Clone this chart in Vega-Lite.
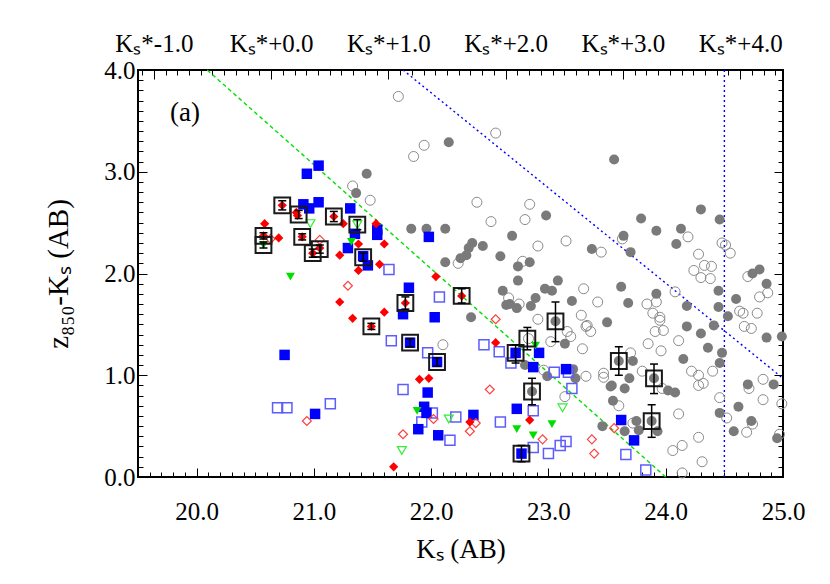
{
"$schema":"https://vega.github.io/schema/vega-lite/v6.json",
"autosize":{"type":"none"},
"padding":{"left":138,"top":70,"right":47,"bottom":107},
"width":645,"height":407,
"background":"white",
"config":{"view":{"stroke":"#000","strokeWidth":2},"font":"Liberation Serif"},
"datasets":{
"pts":[
{"k":22.15,"c":3.29,"t":"gf"},{"k":21.45,"c":2.98,"t":"gf"},{"k":21.36,"c":2.79,"t":"gf"},{"k":21.83,"c":2.44,"t":"gf"},{"k":21.96,"c":2.44,"t":"gf"},{"k":22.12,"c":2.44,"t":"gf"},{"k":22.12,"c":2.11,"t":"gf"},{"k":22.98,"c":2.57,"t":"gf"},{"k":22.69,"c":2.37,"t":"gf"},{"k":22.35,"c":2.30,"t":"gf"},{"k":22.44,"c":2.27,"t":"gf"},{"k":22.32,"c":2.25,"t":"gf"},{"k":22.30,"c":2.18,"t":"gf"},{"k":22.25,"c":2.15,"t":"gf"},{"k":22.59,"c":2.17,"t":"gf"},{"k":23.37,"c":2.24,"t":"gf"},{"k":22.84,"c":2.11,"t":"gf"},{"k":22.74,"c":2.07,"t":"gf"},{"k":22.74,"c":1.93,"t":"gf"},{"k":23.08,"c":1.93,"t":"gf"},{"k":22.97,"c":1.85,"t":"gf"},{"k":23.03,"c":1.83,"t":"gf"},{"k":22.61,"c":1.83,"t":"gf"},{"k":22.89,"c":1.76,"t":"gf"},{"k":23.20,"c":1.73,"t":"gf"},{"k":22.67,"c":1.70,"t":"gf"},{"k":22.64,"c":1.69,"t":"gf"},{"k":22.73,"c":1.66,"t":"gf"},{"k":22.85,"c":1.68,"t":"gf"},{"k":22.34,"c":1.57,"t":"gf"},{"k":23.50,"c":1.52,"t":"gf"},{"k":23.06,"c":1.53,"t":"gf"},{"k":24.30,"c":2.63,"t":"gf"},{"k":23.79,"c":2.54,"t":"gf"},{"k":24.46,"c":2.53,"t":"gf"},{"k":23.92,"c":2.42,"t":"gf"},{"k":24.13,"c":2.44,"t":"gf"},{"k":23.64,"c":2.37,"t":"gf"},{"k":24.09,"c":2.29,"t":"gf"},{"k":23.70,"c":2.21,"t":"gf"},{"k":24.74,"c":2.00,"t":"gf"},{"k":24.80,"c":2.04,"t":"gf"},{"k":24.86,"c":1.90,"t":"gf"},{"k":23.62,"c":1.87,"t":"gf"},{"k":23.92,"c":1.80,"t":"gf"},{"k":24.45,"c":1.83,"t":"gf"},{"k":24.60,"c":1.75,"t":"gf"},{"k":23.68,"c":1.71,"t":"gf"},{"k":24.18,"c":1.68,"t":"gf"},{"k":24.45,"c":1.67,"t":"gf"},{"k":24.53,"c":1.58,"t":"gf"},{"k":24.18,"c":1.48,"t":"gf"},{"k":24.41,"c":1.49,"t":"gf"},{"k":22.80,"c":1.10,"t":"gf"},{"k":22.99,"c":0.99,"t":"gf"},{"k":23.21,"c":1.06,"t":"gf"},{"k":23.23,"c":0.97,"t":"gf"},{"k":23.14,"c":1.31,"t":"gf"},{"k":22.86,"c":0.84,"t":"gf"},{"k":23.53,"c":0.89,"t":"gf"},{"k":23.55,"c":0.75,"t":"gf"},{"k":23.46,"c":0.50,"t":"gf"},{"k":23.60,"c":1.14,"t":"gf"},{"k":23.90,"c":0.97,"t":"gf"},{"k":23.88,"c":0.55,"t":"gf"},{"k":24.30,"c":1.41,"t":"gf"},{"k":23.72,"c":1.14,"t":"gf"},{"k":24.36,"c":1.27,"t":"gf"},{"k":24.48,"c":1.22,"t":"gf"},{"k":24.15,"c":1.16,"t":"gf"},{"k":24.46,"c":1.12,"t":"gf"},{"k":24.86,"c":1.37,"t":"gf"},{"k":24.99,"c":1.38,"t":"gf"},{"k":23.69,"c":0.97,"t":"gf"},{"k":23.54,"c":0.90,"t":"gf"},{"k":23.65,"c":0.87,"t":"gf"},{"k":24.02,"c":0.85,"t":"gf"},{"k":24.08,"c":0.83,"t":"gf"},{"k":24.70,"c":0.91,"t":"gf"},{"k":24.92,"c":0.91,"t":"gf"},{"k":24.62,"c":0.69,"t":"gf"},{"k":24.46,"c":0.63,"t":"gf"},{"k":24.73,"c":0.55,"t":"gf"},{"k":24.58,"c":0.45,"t":"gf"},{"k":24.95,"c":0.38,"t":"gf"},{"k":23.65,"c":0.45,"t":"gf"},{"k":23.75,"c":0.55,"t":"gf"},{"k":23.77,"c":0.46,"t":"gf"},{"k":23.93,"c":0.45,"t":"gf"},{"k":23.56,"c":3.12,"t":"gf"},
{"k":21.72,"c":3.74,"t":"go"},{"k":21.94,"c":3.26,"t":"go"},{"k":21.85,"c":3.15,"t":"go"},{"k":21.33,"c":2.86,"t":"go"},{"k":21.48,"c":2.72,"t":"go"},{"k":22.23,"c":2.10,"t":"go"},{"k":22.10,"c":1.30,"t":"go"},{"k":22.39,"c":2.70,"t":"go"},{"k":22.84,"c":2.68,"t":"go"},{"k":22.51,"c":2.51,"t":"go"},{"k":22.80,"c":2.53,"t":"go"},{"k":22.91,"c":2.27,"t":"go"},{"k":23.15,"c":2.32,"t":"go"},{"k":23.45,"c":2.21,"t":"go"},{"k":22.78,"c":2.12,"t":"go"},{"k":23.30,"c":1.85,"t":"go"},{"k":22.66,"c":1.76,"t":"go"},{"k":23.42,"c":1.72,"t":"go"},{"k":22.75,"c":1.70,"t":"go"},{"k":22.91,"c":1.55,"t":"go"},{"k":23.28,"c":1.59,"t":"go"},{"k":23.33,"c":1.49,"t":"go"},{"k":22.55,"c":3.38,"t":"go"},{"k":23.63,"c":2.34,"t":"go"},{"k":24.19,"c":2.36,"t":"go"},{"k":24.48,"c":2.30,"t":"go"},{"k":24.51,"c":2.28,"t":"go"},{"k":24.55,"c":2.20,"t":"go"},{"k":24.28,"c":2.19,"t":"go"},{"k":24.33,"c":2.08,"t":"go"},{"k":24.39,"c":2.07,"t":"go"},{"k":24.24,"c":2.03,"t":"go"},{"k":24.30,"c":1.96,"t":"go"},{"k":24.38,"c":1.95,"t":"go"},{"k":24.70,"c":1.97,"t":"go"},{"k":24.87,"c":1.81,"t":"go"},{"k":24.80,"c":1.77,"t":"go"},{"k":24.08,"c":1.82,"t":"go"},{"k":23.84,"c":1.70,"t":"go"},{"k":23.92,"c":1.72,"t":"go"},{"k":24.63,"c":1.63,"t":"go"},{"k":24.66,"c":1.61,"t":"go"},{"k":24.78,"c":1.61,"t":"go"},{"k":23.95,"c":1.57,"t":"go"},{"k":23.95,"c":1.54,"t":"go"},{"k":24.67,"c":1.48,"t":"go"},{"k":24.73,"c":1.46,"t":"go"},{"k":22.83,"c":1.36,"t":"go"},{"k":22.96,"c":1.05,"t":"go"},{"k":23.32,"c":0.99,"t":"go"},{"k":23.47,"c":1.02,"t":"go"},{"k":23.47,"c":0.98,"t":"go"},{"k":23.02,"c":1.33,"t":"go"},{"k":23.19,"c":1.38,"t":"go"},{"k":23.29,"c":1.26,"t":"go"},{"k":23.36,"c":1.43,"t":"go"},{"k":23.32,"c":1.48,"t":"go"},{"k":23.14,"c":0.79,"t":"go"},{"k":23.16,"c":1.43,"t":"go"},{"k":23.89,"c":1.61,"t":"go"},{"k":23.91,"c":1.43,"t":"go"},{"k":23.98,"c":1.44,"t":"go"},{"k":23.85,"c":1.31,"t":"go"},{"k":23.70,"c":1.22,"t":"go"},{"k":23.96,"c":1.24,"t":"go"},{"k":24.11,"c":1.34,"t":"go"},{"k":23.80,"c":1.04,"t":"go"},{"k":24.22,"c":1.04,"t":"go"},{"k":24.28,"c":1.00,"t":"go"},{"k":24.40,"c":1.04,"t":"go"},{"k":24.28,"c":0.90,"t":"go"},{"k":24.32,"c":0.92,"t":"go"},{"k":23.97,"c":0.87,"t":"go"},{"k":24.46,"c":0.78,"t":"go"},{"k":24.83,"c":0.96,"t":"go"},{"k":24.71,"c":0.87,"t":"go"},{"k":24.83,"c":0.76,"t":"go"},{"k":24.99,"c":0.72,"t":"go"},{"k":23.60,"c":0.70,"t":"go"},{"k":24.11,"c":0.62,"t":"go"},{"k":24.52,"c":0.58,"t":"go"},{"k":24.74,"c":0.52,"t":"go"},{"k":24.69,"c":0.44,"t":"go"},{"k":24.97,"c":0.42,"t":"go"},{"k":23.72,"c":0.53,"t":"go"},{"k":24.28,"c":0.39,"t":"go"},{"k":24.14,"c":0.31,"t":"go"},{"k":24.06,"c":0.26,"t":"go"},{"k":24.31,"c":0.15,"t":"go"},{"k":24.14,"c":0.04,"t":"go"},
{"k":21.04,"c":3.06,"t":"bf"},{"k":20.94,"c":2.98,"t":"bf"},{"k":20.91,"c":2.68,"t":"bf"},{"k":20.96,"c":2.64,"t":"bf"},{"k":21.04,"c":2.70,"t":"bf"},{"k":21.31,"c":2.64,"t":"bf"},{"k":21.54,"c":2.43,"t":"bf"},{"k":21.54,"c":2.38,"t":"bf"},{"k":21.35,"c":2.39,"t":"bf"},{"k":21.98,"c":2.36,"t":"bf"},{"k":21.29,"c":2.25,"t":"bf"},{"k":21.42,"c":2.17,"t":"bf"},{"k":21.46,"c":2.08,"t":"bf"},{"k":21.81,"c":1.86,"t":"bf"},{"k":21.76,"c":1.60,"t":"bf"},{"k":22.03,"c":1.57,"t":"bf"},{"k":21.82,"c":1.32,"t":"bf"},{"k":22.05,"c":1.13,"t":"bf"},{"k":20.75,"c":1.20,"t":"bf"},{"k":21.97,"c":0.83,"t":"bf"},{"k":21.01,"c":0.62,"t":"bf"},{"k":21.94,"c":0.69,"t":"bf"},{"k":21.96,"c":0.63,"t":"bf"},{"k":21.89,"c":0.47,"t":"bf"},{"k":22.06,"c":0.41,"t":"bf"},{"k":22.72,"c":1.22,"t":"bf"},{"k":22.92,"c":1.22,"t":"bf"},{"k":22.87,"c":1.08,"t":"bf"},{"k":23.15,"c":1.06,"t":"bf"},{"k":22.73,"c":0.67,"t":"bf"},{"k":22.36,"c":0.61,"t":"bf"},{"k":22.77,"c":0.23,"t":"bf"},{"k":23.62,"c":0.56,"t":"bf"},{"k":23.73,"c":0.36,"t":"bf"},
{"k":21.64,"c":2.04,"t":"bo"},{"k":22.07,"c":1.77,"t":"bo"},{"k":21.66,"c":1.34,"t":"bo"},{"k":21.97,"c":1.22,"t":"bo"},{"k":21.76,"c":0.86,"t":"bo"},{"k":20.69,"c":0.68,"t":"bo"},{"k":20.77,"c":0.68,"t":"bo"},{"k":21.14,"c":0.72,"t":"bo"},{"k":22.01,"c":0.63,"t":"bo"},{"k":21.92,"c":0.54,"t":"bo"},{"k":22.21,"c":0.59,"t":"bo"},{"k":22.16,"c":0.36,"t":"bo"},{"k":22.45,"c":1.30,"t":"bo"},{"k":22.58,"c":1.23,"t":"bo"},{"k":22.68,"c":1.12,"t":"bo"},{"k":23.05,"c":1.03,"t":"bo"},{"k":23.17,"c":1.03,"t":"bo"},{"k":23.20,"c":0.87,"t":"bo"},{"k":22.87,"c":0.65,"t":"bo"},{"k":22.59,"c":0.54,"t":"bo"},{"k":22.87,"c":0.29,"t":"bo"},{"k":23.00,"c":0.23,"t":"bo"},{"k":23.10,"c":0.31,"t":"bo"},{"k":23.15,"c":0.35,"t":"bo"},{"k":23.66,"c":0.22,"t":"bo"},{"k":23.83,"c":0.07,"t":"bo"},
{"k":20.73,"c":2.67,"t":"rf"},{"k":20.85,"c":2.60,"t":"rf"},{"k":20.86,"c":2.57,"t":"rf"},{"k":20.58,"c":2.49,"t":"rf"},{"k":20.57,"c":2.37,"t":"rf"},{"k":20.70,"c":2.35,"t":"rf"},{"k":20.90,"c":2.36,"t":"rf"},{"k":21.17,"c":2.56,"t":"rf"},{"k":21.25,"c":2.49,"t":"rf"},{"k":21.53,"c":2.49,"t":"rf"},{"k":21.05,"c":2.25,"t":"rf"},{"k":20.99,"c":2.20,"t":"rf"},{"k":21.38,"c":2.29,"t":"rf"},{"k":21.60,"c":2.29,"t":"rf"},{"k":21.22,"c":2.18,"t":"rf"},{"k":21.38,"c":2.03,"t":"rf"},{"k":21.56,"c":2.09,"t":"rf"},{"k":22.04,"c":1.97,"t":"rf"},{"k":21.78,"c":1.71,"t":"rf"},{"k":21.22,"c":1.72,"t":"rf"},{"k":21.60,"c":1.62,"t":"rf"},{"k":21.33,"c":1.56,"t":"rf"},{"k":21.49,"c":1.48,"t":"rf"},{"k":21.90,"c":0.96,"t":"rf"},{"k":21.98,"c":0.97,"t":"rf"},{"k":21.68,"c":0.10,"t":"rf"},{"k":22.26,"c":1.78,"t":"rf"},{"k":22.55,"c":1.32,"t":"rf"},{"k":22.33,"c":0.54,"t":"rf"},{"k":22.84,"c":0.56,"t":"rf"},
{"k":20.63,"c":2.34,"t":"ro"},{"k":21.05,"c":2.33,"t":"ro"},{"k":21.29,"c":1.88,"t":"ro"},{"k":20.94,"c":0.55,"t":"ro"},{"k":22.02,"c":0.57,"t":"ro"},{"k":21.76,"c":0.42,"t":"ro"},{"k":22.55,"c":1.55,"t":"ro"},{"k":22.50,"c":0.86,"t":"ro"},{"k":22.38,"c":0.53,"t":"ro"},{"k":22.33,"c":0.45,"t":"ro"},{"k":22.95,"c":0.37,"t":"ro"},{"k":23.37,"c":0.37,"t":"ro"},{"k":23.39,"c":0.23,"t":"ro"},{"k":23.56,"c":0.48,"t":"ro"},
{"k":20.57,"c":2.28,"t":"nf"},{"k":21.32,"c":2.31,"t":"nf"},{"k":20.80,"c":1.97,"t":"nf"},{"k":21.88,"c":0.65,"t":"nf"},{"k":22.89,"c":1.29,"t":"nf"},{"k":22.73,"c":0.47,"t":"nf"},{"k":23.03,"c":0.52,"t":"nf"},{"k":22.87,"c":0.41,"t":"nf"},
{"k":20.97,"c":2.49,"t":"no"},{"k":21.37,"c":2.48,"t":"no"},{"k":22.15,"c":0.57,"t":"no"},{"k":21.75,"c":0.26,"t":"no"},{"k":23.12,"c":0.68,"t":"no"}
],
"boxes":[
{"k":20.73,"c":2.67,"lo":2.625,"hi":2.715},{"k":20.87,"c":2.58,"lo":2.54,"hi":2.62},{"k":20.57,"c":2.37,"lo":2.34,"hi":2.40},{"k":20.57,"c":2.28,"lo":2.25,"hi":2.31},{"k":20.90,"c":2.36,"lo":2.33,"hi":2.39},{"k":21.17,"c":2.56,"lo":2.51,"hi":2.61},{"k":21.37,"c":2.48,"lo":2.43,"hi":2.53},{"k":21.05,"c":2.24,"lo":2.20,"hi":2.28},{"k":20.99,"c":2.20,"lo":2.16,"hi":2.24},{"k":21.42,"c":2.16,"lo":2.12,"hi":2.20},{"k":21.78,"c":1.71,"lo":1.65,"hi":1.77},{"k":21.49,"c":1.48,"lo":1.45,"hi":1.51},{"k":21.82,"c":1.32,"lo":1.28,"hi":1.36},{"k":22.05,"c":1.13,"lo":1.09,"hi":1.17},{"k":22.26,"c":1.78,"lo":1.71,"hi":1.85},{"k":23.06,"c":1.53,"lo":1.33,"hi":1.72},{"k":22.82,"c":1.36,"lo":1.25,"hi":1.47},{"k":22.72,"c":1.22,"lo":1.12,"hi":1.30},{"k":22.86,"c":0.84,"lo":0.71,"hi":0.97},{"k":22.77,"c":0.23,"lo":0.15,"hi":0.31},{"k":23.60,"c":1.14,"lo":1.00,"hi":1.28},{"k":23.90,"c":0.97,"lo":0.82,"hi":1.11},{"k":23.88,"c":0.55,"lo":0.39,"hi":0.71}
],
"lines":[{"g":"green","k":20.09,"c":4.0},{"g":"green","k":24.0,"c":0.0},{"g":"blue","k":21.76,"c":4.0},{"g":"blue","k":25.0,"c":0.97}],
"vline":[{"k":24.5}],
"lab":[{"k":19.9,"c":3.58,"text":"(a)"}]
},
"resolve":{"axis":{"x":"independent","y":"independent"}},
"layer":[
{"data":{"name":"lines"},"transform":[{"filter":"datum.g=='green'"}],
 "mark":{"type":"line","color":"#00e000","strokeWidth":1.4,"strokeDash":[4,3]},
 "encoding":{"x":{"field":"k","type":"quantitative","scale":{"domain":[19.5,25],"nice":false,"zero":false},"axis":null},"y":{"field":"c","type":"quantitative","scale":{"domain":[0,4],"nice":false,"zero":false},"axis":null}}},
{"data":{"name":"lines"},"transform":[{"filter":"datum.g=='blue'"}],
 "mark":{"type":"line","color":"#0000ff","strokeWidth":1.4,"strokeDash":[2,3]},
 "encoding":{"x":{"field":"k","type":"quantitative","scale":{"domain":[19.5,25],"nice":false,"zero":false},"axis":null},"y":{"field":"c","type":"quantitative","scale":{"domain":[0,4],"nice":false,"zero":false},"axis":null}}},
{"data":{"name":"vline"},
 "mark":{"type":"rule","color":"#0000ff","strokeWidth":1.4,"strokeDash":[2,3]},
 "encoding":{"x":{"field":"k","type":"quantitative","scale":{"domain":[19.5,25],"nice":false,"zero":false},"axis":null}}},
{"data":{"name":"pts"},"transform":[{"filter":"datum.t=='go'"}],
 "mark":{"type":"point","shape":"circle","filled":false,"stroke":"#8a8a8a","strokeWidth":1,"size":100,"opacity":1},
 "encoding":{
  "x":{"field":"k","type":"quantitative","scale":{"domain":[19.5,25],"nice":false,"zero":false},
   "axis":{"orient":"bottom","values":[19.6,19.7,19.8,19.9,20,20.1,20.2,20.3,20.4,20.5,20.6,20.7,20.8,20.9,21,21.1,21.2,21.3,21.4,21.5,21.6,21.7,21.8,21.9,22,22.1,22.2,22.3,22.4,22.5,22.6,22.7,22.8,22.9,23,23.1,23.2,23.3,23.4,23.5,23.6,23.7,23.8,23.9,24,24.1,24.2,24.3,24.4,24.5,24.6,24.7,24.8,24.9,25],
    "labelExpr":"abs(datum.value-round(datum.value))<0.001 ? format(datum.value,'.1f') : ''",
    "tickSize":{"condition":{"test":"abs(datum.value-round(datum.value))<0.001","value":-9},"value":-5},
    "tickColor":"#000","tickWidth":1,"domain":false,"grid":false,"labelOverlap":false,"labelBound":false,"labelFlush":false,
    "labelFont":"Liberation Serif","labelFontSize":25,"labelColor":"#000","labelPadding":31,
    "title":"Kₛ (AB)","titleFont":"Liberation Serif","titleFontSize":27,"titleFontWeight":"normal","titleColor":"#000","titlePadding":8}},
  "y":{"field":"c","type":"quantitative","scale":{"domain":[0,4],"nice":false,"zero":false},
   "axis":{"orient":"left","values":[0,0.1,0.2,0.3,0.4,0.5,0.6,0.7,0.8,0.9,1,1.1,1.2,1.3,1.4,1.5,1.6,1.7,1.8,1.9,2,2.1,2.2,2.3,2.4,2.5,2.6,2.7,2.8,2.9,3,3.1,3.2,3.3,3.4,3.5,3.6,3.7,3.8,3.9,4],
    "labelExpr":"abs(datum.value-round(datum.value))<0.001 ? format(datum.value,'.1f') : ''",
    "tickSize":{"condition":{"test":"abs(datum.value-round(datum.value))<0.001","value":-9},"value":-5},
    "tickColor":"#000","tickWidth":1,"domain":false,"grid":false,"labelOverlap":false,"labelBound":false,"labelFlush":false,
    "labelFont":"Liberation Serif","labelFontSize":25,"labelColor":"#000","labelPadding":12,
    "title":"z₈₅₀-Kₛ (AB)","titleFont":"Liberation Serif","titleFontSize":29,"titleFontWeight":"normal","titleColor":"#000","titlePadding":30}}}},
{"data":{"name":"pts"},"transform":[{"filter":"datum.t=='gf'"}],
 "mark":{"type":"point","shape":"circle","filled":true,"fill":"#7a7a7a","size":100,"opacity":1},
 "encoding":{
  "x":{"field":"k","type":"quantitative","scale":{"domain":[19.5,25],"nice":false,"zero":false},
   "axis":{"orient":"top","values":[19.535,19.635,19.735,19.835,19.935,20.035,20.135,20.235,20.335,20.435,20.535,20.635,20.735,20.835,20.935,21.035,21.135,21.235,21.335,21.435,21.535,21.635,21.735,21.835,21.935,22.035,22.135,22.235,22.335,22.435,22.535,22.635,22.735,22.835,22.935,23.035,23.135,23.235,23.335,23.435,23.535,23.635,23.735,23.835,23.935,24.035,24.135,24.235,24.335,24.435,24.535,24.635,24.735,24.835,24.935],
    "labelExpr":"abs((datum.value-20.635)-round(datum.value-20.635))<0.01 ? 'Kₛ*' + (round(datum.value-20.635)<0 ? '-' : '+') + abs(round(datum.value-20.635)) + '.0' : ''",
    "tickSize":{"condition":{"test":"abs((datum.value-20.635)-round(datum.value-20.635))<0.01","value":-9},"value":-5},
    "tickColor":"#000","tickWidth":1,"domain":false,"grid":false,"labelOverlap":false,"labelBound":false,"labelFlush":false,
    "labelFont":"Liberation Serif","labelFontSize":25,"labelColor":"#000","labelPadding":23,"title":null}},
  "y":{"field":"c","type":"quantitative","scale":{"domain":[0,4],"nice":false,"zero":false},
   "axis":{"orient":"right","values":[0,0.1,0.2,0.3,0.4,0.5,0.6,0.7,0.8,0.9,1,1.1,1.2,1.3,1.4,1.5,1.6,1.7,1.8,1.9,2,2.1,2.2,2.3,2.4,2.5,2.6,2.7,2.8,2.9,3,3.1,3.2,3.3,3.4,3.5,3.6,3.7,3.8,3.9,4],
    "labels":false,
    "tickSize":{"condition":{"test":"abs(datum.value-round(datum.value))<0.001","value":-9},"value":-5},
    "tickColor":"#000","tickWidth":1,"domain":false,"grid":false,"title":null}}}},
{"data":{"name":"pts"},"transform":[{"filter":"datum.t=='bo'"}],
 "mark":{"type":"point","shape":"square","filled":false,"stroke":"#5c5cff","strokeWidth":1.5,"size":100,"opacity":1},
 "encoding":{"x":{"field":"k","type":"quantitative","scale":{"domain":[19.5,25],"nice":false,"zero":false},"axis":null},"y":{"field":"c","type":"quantitative","scale":{"domain":[0,4],"nice":false,"zero":false},"axis":null}}},
{"data":{"name":"pts"},"transform":[{"filter":"datum.t=='bf'"}],
 "mark":{"type":"point","shape":"square","filled":true,"fill":"#0000ff","size":110,"opacity":1},
 "encoding":{"x":{"field":"k","type":"quantitative","scale":{"domain":[19.5,25],"nice":false,"zero":false},"axis":null},"y":{"field":"c","type":"quantitative","scale":{"domain":[0,4],"nice":false,"zero":false},"axis":null}}},
{"data":{"name":"pts"},"transform":[{"filter":"datum.t=='ro'"}],
 "mark":{"type":"point","shape":"diamond","filled":false,"stroke":"#ff4040","strokeWidth":1.2,"size":80,"opacity":1},
 "encoding":{"x":{"field":"k","type":"quantitative","scale":{"domain":[19.5,25],"nice":false,"zero":false},"axis":null},"y":{"field":"c","type":"quantitative","scale":{"domain":[0,4],"nice":false,"zero":false},"axis":null}}},
{"data":{"name":"pts"},"transform":[{"filter":"datum.t=='rf'"}],
 "mark":{"type":"point","shape":"diamond","filled":true,"fill":"#ff0000","size":85,"opacity":1},
 "encoding":{"x":{"field":"k","type":"quantitative","scale":{"domain":[19.5,25],"nice":false,"zero":false},"axis":null},"y":{"field":"c","type":"quantitative","scale":{"domain":[0,4],"nice":false,"zero":false},"axis":null}}},
{"data":{"name":"pts"},"transform":[{"filter":"datum.t=='no'"}],
 "mark":{"type":"point","shape":"triangle-down","filled":false,"stroke":"#33ee33","strokeWidth":1.2,"size":80,"opacity":1},
 "encoding":{"x":{"field":"k","type":"quantitative","scale":{"domain":[19.5,25],"nice":false,"zero":false},"axis":null},"y":{"field":"c","type":"quantitative","scale":{"domain":[0,4],"nice":false,"zero":false},"axis":null}}},
{"data":{"name":"pts"},"transform":[{"filter":"datum.t=='nf'"}],
 "mark":{"type":"point","shape":"triangle-down","filled":true,"fill":"#00dd00","size":80,"opacity":1},
 "encoding":{"x":{"field":"k","type":"quantitative","scale":{"domain":[19.5,25],"nice":false,"zero":false},"axis":null},"y":{"field":"c","type":"quantitative","scale":{"domain":[0,4],"nice":false,"zero":false},"axis":null}}},
{"data":{"name":"boxes"},
 "mark":{"type":"point","shape":"square","filled":false,"stroke":"#1a1a1a","strokeWidth":2,"size":250,"opacity":1},
 "encoding":{"x":{"field":"k","type":"quantitative","scale":{"domain":[19.5,25],"nice":false,"zero":false},"axis":null},"y":{"field":"c","type":"quantitative","scale":{"domain":[0,4],"nice":false,"zero":false},"axis":null}}},
{"data":{"name":"boxes"},
 "mark":{"type":"rule","color":"#000","strokeWidth":1.5},
 "encoding":{"x":{"field":"k","type":"quantitative","scale":{"domain":[19.5,25],"nice":false,"zero":false},"axis":null},"y":{"field":"lo","type":"quantitative","scale":{"domain":[0,4],"nice":false,"zero":false},"axis":null},"y2":{"field":"hi"}}},
{"data":{"name":"boxes"},
 "mark":{"type":"tick","orient":"horizontal","color":"#000","thickness":1.5,"size":8,"opacity":1},
 "encoding":{"x":{"field":"k","type":"quantitative","scale":{"domain":[19.5,25],"nice":false,"zero":false},"axis":null},"y":{"field":"lo","type":"quantitative","scale":{"domain":[0,4],"nice":false,"zero":false},"axis":null}}},
{"data":{"name":"boxes"},
 "mark":{"type":"tick","orient":"horizontal","color":"#000","thickness":1.5,"size":8,"opacity":1},
 "encoding":{"x":{"field":"k","type":"quantitative","scale":{"domain":[19.5,25],"nice":false,"zero":false},"axis":null},"y":{"field":"hi","type":"quantitative","scale":{"domain":[0,4],"nice":false,"zero":false},"axis":null}}},
{"data":{"name":"lab"},
 "mark":{"type":"text","font":"Liberation Serif","fontSize":27,"color":"#000","align":"center","baseline":"middle"},
 "encoding":{"x":{"field":"k","type":"quantitative","scale":{"domain":[19.5,25],"nice":false,"zero":false},"axis":null},"y":{"field":"c","type":"quantitative","scale":{"domain":[0,4],"nice":false,"zero":false},"axis":null},"text":{"field":"text"}}}
]
}
